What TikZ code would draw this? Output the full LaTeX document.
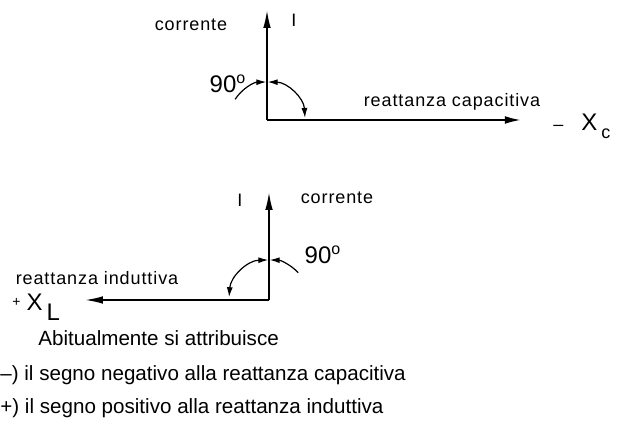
\documentclass[tikz,border=0pt]{standalone}
\usepackage{fontspec}
\setmainfont{Liberation Sans}
\usetikzlibrary{arrows.meta,positioning}

\begin{document}
\begin{tikzpicture}[
    x=0.5pt, y=0.5pt,
    >={Latex[length=9pt,width=3.8pt]},
    lbl/.style={
        font=\fontsize{9}{10}\selectfont\addfontfeature{LetterSpace=5},
        inner sep=0pt
    },
    ang/.style={
        font=\fontsize{12}{13}\selectfont,
        inner sep=0pt
    },
    sym/.style={
        font=\fontsize{12}{13}\selectfont,
        inner sep=0pt,
        anchor=west
    },
    txt/.style={
        font=\fontsize{10.3}{12}\selectfont,
        inner sep=0pt,
        anchor=west
    },
    axis/.style={->, line width=0.9pt},
    angarc/.style={line width=0.6pt}
]
\useasboundingbox (0,0) rectangle (618,438);

% first diagram: capacitive reactance
\coordinate (oc) at (267,318);
\coordinate (ic) at (267,428);
\coordinate (xc) at (523,318);
\draw[axis] (oc) -- (ic);
\draw[axis, line width=1.4pt] (oc) -- (xc);

\draw[angarc, -{Latex[length=5pt,width=3pt]}] (oc) ++(147:38) arc[start angle=147, end angle=91, radius=38];
\draw[angarc, {Latex[length=5pt,width=3pt]}-{Latex[length=5pt,width=3pt]}] (oc) ++(89:38) arc[start angle=89, end angle=3, radius=38];

\node[lbl] (corrc) at (191,413) {corrente};
\node[lbl] (curc) at (294,418) {I};
\node[ang] (angc) at (228,354) {90\textsuperscript{o}};
\node[lbl] (reac) at (452,336) {reattanza capacitiva};
\node[sym] (symc) at (553,312) {\fontsize{9}{10}\selectfont\textendash\hspace{9pt}\fontsize{12}{13}\selectfont X\hspace{2pt}\raisebox{-4pt}{\fontsize{9}{10}\selectfont c}};

% second diagram: inductive reactance
\coordinate (ol) at (269,138);
\coordinate (il) at (269,246);
\coordinate (xl) at (85,138);
\draw[axis] (ol) -- (il);
\draw[axis] (ol) -- (xl);

\draw[angarc, -{Latex[length=5pt,width=3pt]}] (ol) ++(43:40) arc[start angle=43, end angle=89, radius=40];
\draw[angarc, {Latex[length=5pt,width=3pt]}-{Latex[length=5pt,width=3pt]}] (ol) ++(91:40) arc[start angle=91, end angle=176, radius=40];

\node[lbl] (curl) at (240,238) {I};
\node[lbl] (corrl) at (337,240) {corrente};
\node[ang] (angl) at (323,183) {90\textsuperscript{o}};
\node[lbl] (real) at (97,160) {reattanza induttiva};
\node[sym] (syml) at (12,131) {\raisebox{2pt}{\fontsize{7}{8}\selectfont +}\hspace{3pt}X\hspace{2pt}\raisebox{-5pt}{L}};

% note below
\node[txt] (note) at (38,100) {Abitualmente si attribuisce};
\node[txt] (neg) at (0,63) {\textendash) il segno negativo alla reattanza capacitiva};
\node[txt] (pos) at (0,30) {+) il segno positivo alla reattanza induttiva};

\end{tikzpicture}
\end{document}
